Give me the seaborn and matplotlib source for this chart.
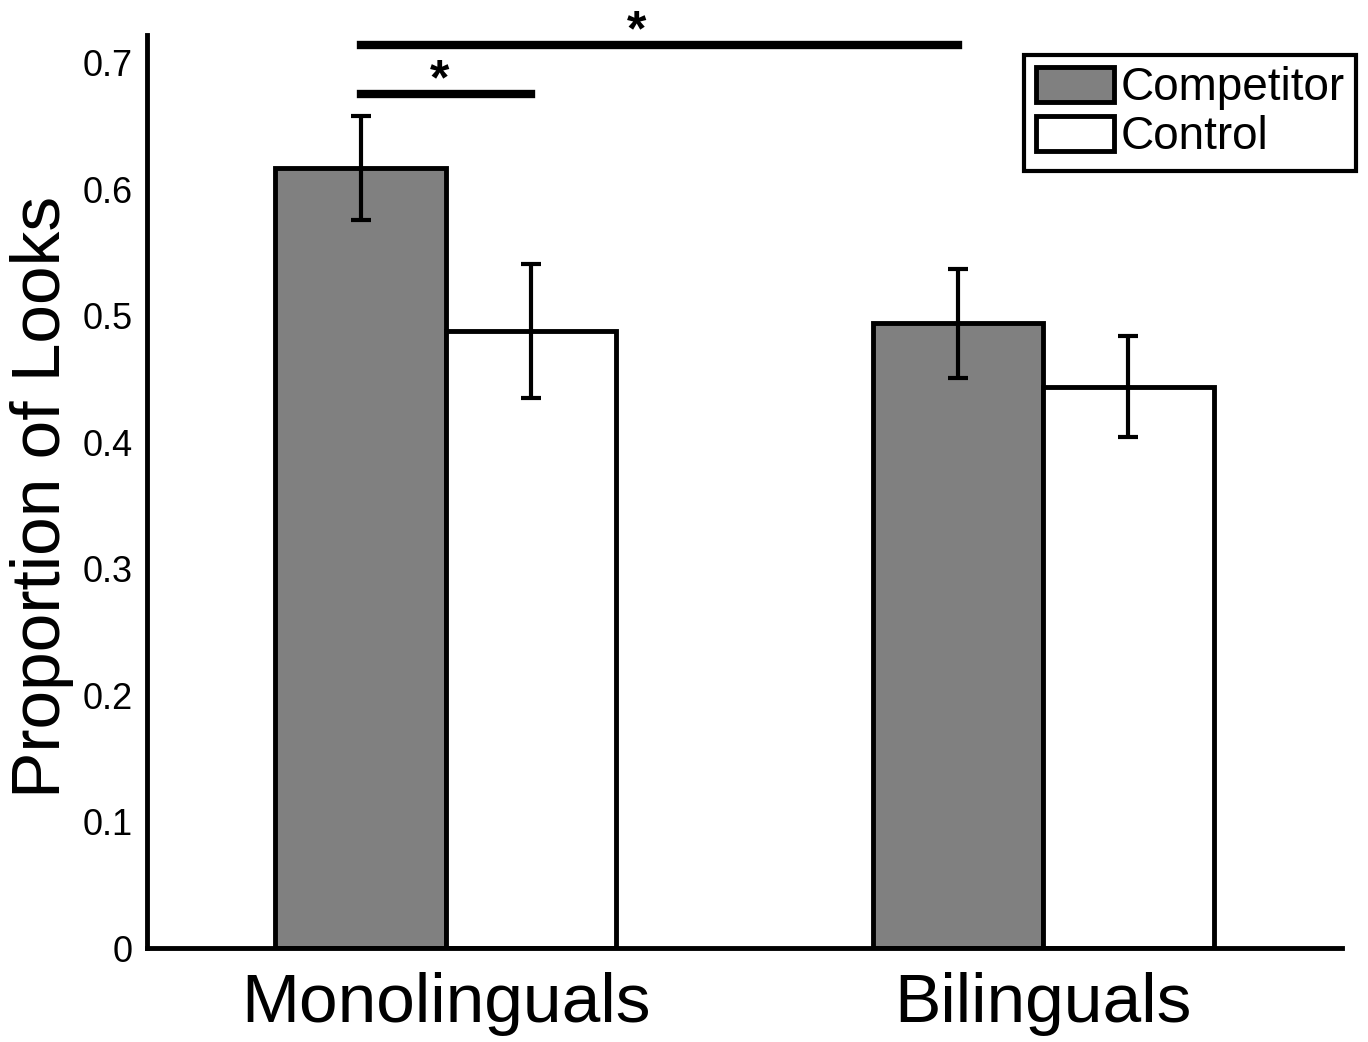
import pandas as pd
import matplotlib
matplotlib.use('Agg')
import matplotlib.pyplot as plt
import seaborn as sns
from matplotlib.patches import Patch

# Werte
groups = ['Monolinguals', 'Bilinguals']
conditions = ['Competitor', 'Control']
competitor_mean = [0.617, 0.494]
control_mean = [0.488, 0.444]
competitor_err = [0.041, 0.043]
control_err = [0.053, 0.040]
y_ticks = [0, 0.1, 0.2, 0.3, 0.4, 0.5, 0.6, 0.7]
y_tick_labels = ['0', '0.1', '0.2', '0.3', '0.4', '0.5', '0.6', '0.7']

df = pd.DataFrame({
    'group': groups * 2,
    'condition': [conditions[0]] * 2 + [conditions[1]] * 2,
    'value': competitor_mean + control_mean,
})

sns.set_style('white')
plt.rcParams['font.family'] = ['Liberation Sans', 'DejaVu Sans']
plt.rcParams['text.color'] = 'black'
plt.rcParams['axes.labelcolor'] = 'black'
plt.rcParams['xtick.color'] = 'black'
plt.rcParams['ytick.color'] = 'black'

fig = plt.figure(figsize=(13.68, 10.42), dpi=100)
ax = fig.add_axes([147 / 1368, 1 - 948 / 1042, (1342 - 147) / 1368, (948 - 35) / 1042])

sns.barplot(data=df, x='group', y='value', hue='condition', order=groups,
            hue_order=conditions,
            palette={'Competitor': '#808080', 'Control': 'white'},
            edgecolor='black', linewidth=3.5, saturation=1, width=0.57,
            errorbar=None, legend=False, ax=ax)

# Fehlerbalken an die Balkenmitten setzen
errs = [competitor_err, control_err]
centers = {}
for cond, cont, err in zip(conditions, ax.containers, errs):
    xs = [p.get_x() + p.get_width() / 2 for p in cont]
    ys = [p.get_height() for p in cont]
    centers[cond] = xs
    ax.errorbar(xs, ys, yerr=err, fmt='none', ecolor='black',
                elinewidth=3, capsize=7, capthick=3, zorder=5)

ax.set_xlim(-0.5, 1.5)
ax.set_ylim(0, 0.722)
ax.set_yticks(y_ticks)
ax.set_yticklabels(y_tick_labels)
ax.tick_params(axis='y', length=0, pad=10, labelsize=26)
ax.tick_params(axis='x', length=0, pad=17, labelsize=50)
ax.set_xlabel('')
ax.set_ylabel('Proportion of Looks', fontsize=50, va='center')
ax.yaxis.set_label_coords((42 - 147) / 1195, (948 - 497) / 913)

sns.despine(ax=ax)
for s in ['left', 'bottom']:
    ax.spines[s].set_linewidth(3.5)
    ax.spines[s].set_color('black')

# Signifikanzbalken
x0 = centers['Competitor'][0]
ax.plot([x0, centers['Competitor'][1]], [0.714, 0.714], color='black', lw=6,
        solid_capstyle='projecting', clip_on=False)
ax.plot([x0, centers['Control'][0]], [0.675, 0.675], color='black', lw=6,
        solid_capstyle='projecting', clip_on=False)
ax.text(0.32, 0.7245, '*', fontsize=36, fontweight='bold', ha='center', va='center', clip_on=False)
ax.text(-0.01, 0.6855, '*', fontsize=36, fontweight='bold', ha='center', va='center', clip_on=False)

handles = [Patch(facecolor='#808080', edgecolor='black', linewidth=3.5, label='Competitor'),
           Patch(facecolor='white', edgecolor='black', linewidth=3.5, label='Control')]
leg = fig.legend(handles=handles, loc='upper right',
                 bbox_to_anchor=(1356 / 1368, 1 - 55 / 1042), fontsize=33,
                 frameon=True, fancybox=False, framealpha=1, edgecolor='black',
                 handlelength=1.7, handleheight=0.8, handletextpad=0.15,
                 labelspacing=0.1, borderpad=0.25, borderaxespad=0)
leg.get_frame().set_linewidth(3)

fig.savefig('out.png', dpi=100)
